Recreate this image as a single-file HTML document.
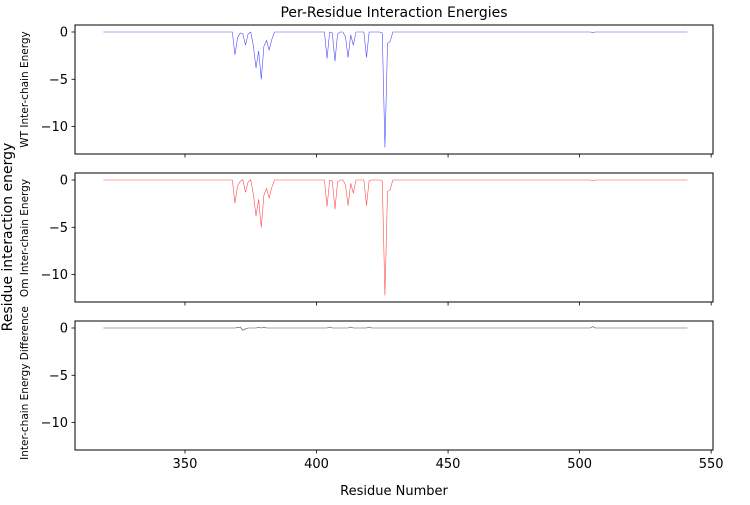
<!DOCTYPE html>
<html><head><meta charset="utf-8"><style>
body{margin:0;background:#fff;width:750px;height:500px;overflow:hidden}
svg{font-family:"DejaVu Sans","Liberation Sans",sans-serif}
</style></head><body>
<svg id="chart" width="750" height="500"></svg>
<script>
const residueStart = 319;
const residueEnd = 541;
const xTicks = [350, 400, 450, 500, 550];
const yTicks = [0, -5, -10];
// sparse values: [residue, energy]
const wtValues = [[369,-2.4],[370,-0.6],[371,-0.1],[372,-0.2],[373,-1.4],[374,-0.2],[376,-1.5],[377,-3.8],[378,-2.0],[379,-5.0],[380,-1.5],[381,-0.9],[382,-1.9],[383,-0.8],
[404,-2.8],[406,-0.1],[407,-3.1],[408,-0.2],[411,-0.5],[412,-2.7],[413,-0.3],[414,-1.4],[419,-2.7],[425,-0.1],[426,-12.2],[427,-1.2],[428,-1.0],[505,-0.05]];
const omValues = [[369,-2.45],[370,-0.6],[371,-0.15],[372,0.05],[373,-1.3],[374,-0.2],[376,-1.5],[377,-3.8],[378,-2.05],[379,-5.0],[380,-1.6],[381,-0.9],[382,-1.9],[383,-0.8],
[404,-2.8],[405,-0.05],[406,-0.1],[407,-3.1],[408,-0.2],[411,-0.5],[412,-2.7],[413,-0.35],[414,-1.4],[419,-2.7],[420,-0.05],[425,-0.1],[426,-12.2],[427,-1.2],[428,-1.0],[505,-0.05]];
const diffValues = [[370,0.05],[371,0.1],[372,-0.25],[373,-0.1],[378,0.05],[380,0.1],[405,0.1],[413,0.1],[420,0.1],[505,0.15]];

const NS="http://www.w3.org/2000/svg";
const svg=document.getElementById('chart');
function el(tag,attrs,parent){const e=document.createElementNS(NS,tag);for(const k in attrs)e.setAttribute(k,attrs[k]);(parent||svg).appendChild(e);return e;}
const X0=308.2,X1=550.7,PL=75,PR=713;
function xs(v){return PL+(v-X0)/(X1-X0)*(PR-PL);}
function series(sparse){const m={};sparse.forEach(p=>m[p[0]]=p[1]);const out=[];for(let r=residueStart;r<=residueEnd;r++)out.push([r,m[r]||0]);return out;}
const panels=[
 {top:25,bot:154,data:wtValues,color:'#0000ff',label:'WT Inter-chain Energy',name:'wt',showX:false},
 {top:173,bot:302,data:omValues,color:'#ff0000',label:'Om Inter-chain Energy',name:'om',showX:false},
 {top:321,bot:450,data:diffValues,color:'#000000',label:'Inter-chain Energy Difference',name:'difference',showX:true}
];
const Y0=0.74,Y1=-12.9;
panels.forEach(p=>{
 const ys=v=>p.top+(Y0-v)/(Y0-Y1)*(p.bot-p.top);
 const g=el('g',{});
 
 
 const pts=series(p.data).map(d=>xs(d[0]).toFixed(2)+','+ys(d[1]).toFixed(2)).join(' ');
 const line=el('polyline',{points:pts,fill:'none',stroke:p.color,'stroke-width':0.6,'stroke-opacity':0.7},g);
 
 
 const frame=el('rect',{x:PL,y:p.top,width:PR-PL,height:p.bot-p.top,fill:'none',stroke:'#000','stroke-width':1},g);
 
 
 yTicks.forEach(t=>{
  const y=ys(t);
  el('line',{x1:PL-3.5,x2:PL,y1:y,y2:y,stroke:'#000','stroke-width':0.8},g);
  const tx=el('text',{x:PL-7,y:y+4.5,'text-anchor':'end','font-size':13},g);
  tx.textContent=t===0?'0':'\u2212'+Math.abs(t);
  
  
 });
 xTicks.forEach(t=>{
  const x=xs(t);
  el('line',{x1:x,x2:x,y1:p.bot,y2:p.bot+3.5,stroke:'#000','stroke-width':0.8},g);
  if(p.showX){
   const tx=el('text',{x:x,y:p.bot+18,'text-anchor':'middle','font-size':13},g);
   tx.textContent=t;
   
   
  }
 });
 const cy=(p.name==='difference')?383:(p.name==='om'?238:(p.top+p.bot)/2);
 const lb=el('text',{x:0,y:0,'text-anchor':'middle','font-size':10.5,transform:`translate(28,${cy}) rotate(-90)`},g);
 lb.textContent=p.label;
 
 
});
const title=el('text',{x:394,y:17,'text-anchor':'middle','font-size':14});
title.textContent='Per-Residue Interaction Energies';


const xl=el('text',{x:394,y:495,'text-anchor':'middle','font-size':13});
xl.textContent='Residue Number';


const yl=el('text',{x:0,y:0,'text-anchor':'middle','font-size':14,transform:'translate(12,237) rotate(-90)'});
yl.textContent='Residue interaction energy';


</script>
</body></html>
